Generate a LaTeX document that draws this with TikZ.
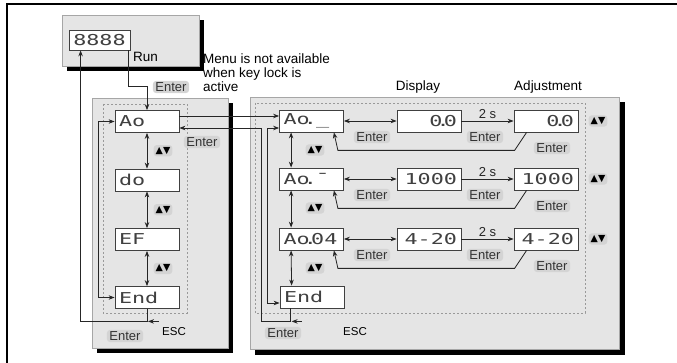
\documentclass[tikz,border=0pt]{standalone}
\usepackage{fontspec}
\setmainfont{Liberation Sans}
\newfontfamily\segfont[FakeStretch=1.45]{DejaVu Sans Mono}
\newfontfamily\symfont{DejaVu Sans}
\usetikzlibrary{arrows.meta,positioning,calc,backgrounds}
\newcommand{\dotpt}{\kern0.05em\makebox[0pt]{.}\kern0.05em}

\tikzset{
  panel/.style={draw=black!35, fill=black!10},
  frame/.style={draw=black!40, line width=0.6pt, dash pattern=on 2pt off 2pt},
  seg/.style={draw=black!75, line width=0.8pt, fill=white, minimum height=22pt,
    text width=56pt, inner xsep=4pt, inner ysep=0pt, text=black!75,
    font=\segfont\fontsize{15}{15}\selectfont},
  segl/.style={seg, align=left},
  segr/.style={seg, align=right},
  key/.style={fill=black!17, rounded corners=3pt, inner xsep=2.5pt, inner ysep=1.5pt,
    text=black!80, font=\fontsize{13}{13}\selectfont},
  updn/.style={key, text=black, inner xsep=2pt, inner ysep=2pt, font=\symfont\fontsize{9.5}{9.5}\selectfont},
  lbl/.style={font=\fontsize{13.5}{13.5}\selectfont},
  esctext/.style={font=\fontsize{11.5}{11.5}\selectfont},
  twosec/.style={font=\fontsize{13}{13}\selectfont, inner sep=1.5pt},
  con/.style={line width=0.8pt, black!85}
}

\begin{document}
\begin{tikzpicture}[x=1pt, y=-1pt, >={Stealth[length=6pt,width=4.5pt]}]
  \useasboundingbox (0,0) rectangle (677,363);
  \draw[line width=1.2pt] (7,363) -- (7,4) -- (677,4);

  % panels with shadow
  \fill (67,20) rectangle (204,71);
  \draw[panel] (62,15) rectangle (199,66);
  \fill (97,103) rectangle (233,353);
  \draw[panel] (92,98) rectangle (228,348);
  \fill (255,102) rectangle (625,355);
  \draw[panel] (250,97) rectangle (619,349);
  \draw[frame] (103,104) rectangle (187,313);
  \draw[frame] (255,103) rectangle (585,313);

  % run display
  \node[seg, text width=53pt, minimum height=20pt, align=center] (d8888) at (99.5,40) {8888};
  \node[lbl, anchor=west, inner sep=0pt] (run) at (133,57) {Run};
  \node[lbl, anchor=north west, align=left, inner sep=0pt, font=\fontsize{13.5}{14}\selectfont]
    (note) at (203,54) {Menu is not available\\when key lock is\\active};
  \node[key] (k0) at (171,87) {Enter};

  % menu list
  \node[segl] (lAo) at (147,121.5) {Ao};
  \node[segl] (ldo) at (147,180) {do};
  \node[segl] (lEF) at (147,239.5) {EF};
  \node[segl] (lEnd) at (147,297.5) {End};
  \node[key] (k1) at (202,142) {Enter};
  \node[key] (k2) at (125,336) {Enter};
  \node[esctext] (e1) at (174,332) {ESC};
  \foreach \a/\b/\y in {lAo/ldo/150.7, ldo/lEF/209.7, lEF/lEnd/268.5} {
    \draw[con,<->] (\a) -- (\b);
    \node[updn] at (163,\y) {▲▼};
  }
  \draw[con,<->] (lAo.west) -- ++(-16,0) |- (lEnd.west);
  \draw[con,->] ($(d8888.south east)+(-2,0)$) |- ($(lAo.north)+(0,-24)$) -- (lAo.north);
  \draw[con,->] (lEnd.south) -- ++(0,12.5) -| ($(d8888.south west)+(12,0)$);
  \draw[con,->] ($(lEnd.south)+(12,12.5)$) -- ++(-11,0);

  % analogue output settings
  \node[lbl] at (418,87) {Display};
  \node[lbl] at (548,87) {Adjustment};
  \foreach \i/\y/\t/\v in {1/121/{Ao\dotpt\ \_}/{0\dotpt0}, 2/179/{Ao\dotpt\ ¯}/{1000}, 3/239/{Ao\dotpt04}/{4-20}} {
    \node[segl] (a-\i-1) at (311.5,\y) {\t};
    \node[segr] (a-\i-2) at (429,\y) {\v};
    \node[segr] (a-\i-3) at (546,\y) {\v};
    \draw[con,<->] (a-\i-1) -- (a-\i-2);
    \draw[con,->] (a-\i-2) -- node[twosec, above] {2 s} (a-\i-3);
    \node[key] at (372,\y+16) {Enter};
    \node[key] at (485,\y+16) {Enter};
    \node[key] at (552,\y+27) {Enter};
    \node[updn] at (598,\y) {▲▼};
    \node[updn] at (315,\y+29) {▲▼};
    \draw[con,->] ($(a-\i-3.south west)+(13,0)$) -- ++(-12,18)
      -- ($(a-\i-1.south east)+(-6,18)$) -- ($(a-\i-1.south east)+(-10,0)$);
  }
  \node[segl] (rEnd) at (312,297) {End};
  \foreach \a/\b in {a-1-1/a-2-1, a-2-1/a-3-1, a-3-1/rEnd}
    \draw[con,<->] ($(\a.south west)+(12,0)$) -- ($(\b.north west)+(12,0)$);
  \node[key] (k3) at (283,333) {Enter};
  \node[esctext] (e2) at (355,332) {ESC};

  % links between the two lists
  \coordinate (u) at ($(lAo.east)+(0,-5.5)$);
  \draw[con,->] (u) -- (u -| a-1-1.west);
  \draw[con,<->] ($(a-1-1.west)+(0,7)$) -- ++(-12,0) |- ($(rEnd.west)+(0,6)$);
  \draw[con,->] ($(rEnd.south west)+(11,0)$) -- ++(0,13) -- ++(-29,0) |- ($(lAo.east)+(0,6.5)$);
  \draw[con,->] ($(rEnd.south west)+(22,13)$) -- ++(-10,0);
\end{tikzpicture}
\end{document}
